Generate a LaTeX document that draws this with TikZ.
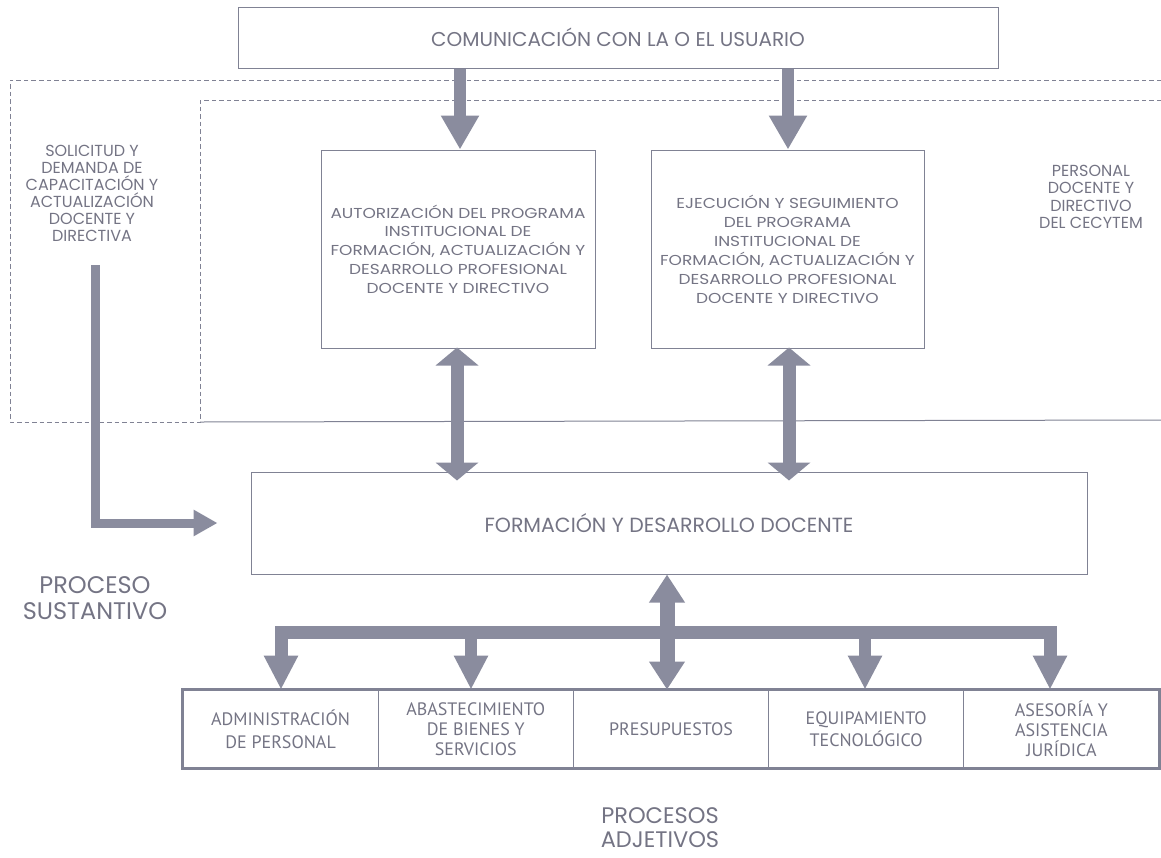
\documentclass[tikz,border=0pt]{standalone}
\usepackage{fontspec}
\setmainfont{Poppins}
\newfontfamily\narrowf{PT Sans}
\newfontfamily\widef[FakeStretch=1.18]{Poppins}
\usetikzlibrary{arrows.meta,calc}
\definecolor{arrowc}{RGB}{138,140,158}
\definecolor{linec}{RGB}{128,130,148}
\definecolor{textc}{RGB}{116,116,132}
\tikzset{
  fat/.style={draw=arrowc, line width=12pt, line join=miter, -{Triangle[width=36pt,length=34pt]}},
  flatboth/.style={draw=arrowc, line width=13pt, line join=miter, {Triangle[width=42pt,length=18pt]}-{Triangle[width=42pt,length=18pt]}},
  slim/.style={draw=arrowc, line width=9pt, line join=miter, -{Triangle[width=25pt,length=24pt]}},
  branch/.style={draw=arrowc, line width=12pt, line join=miter, -{Triangle[width=32pt,length=34pt]}},
  branchboth/.style={draw=arrowc, line width=13pt, line join=miter, {Triangle[width=32pt,length=34pt]}-{Triangle[width=32pt,length=34pt]}},
  midboth/.style={draw=arrowc, line width=15pt, line join=miter, {Triangle[width=34pt,length=28pt]}-{Triangle[width=34pt,length=28pt]}},
  box/.style={draw=linec, line width=1pt, text=textc, align=center, inner sep=0pt},
  dashline/.style={draw=linec, line width=0.9pt, dash pattern=on 4.5pt off 3pt},
  lbl/.style={text=textc, align=center, inner sep=0pt},
  cell/.style={draw=linec, line width=0.8pt, text=textc, align=center, minimum width=195.2pt, minimum height=78pt, inner sep=0pt}
}
\begin{document}
\begin{tikzpicture}[x=1pt,y=-1pt]
\useasboundingbox (0,0) rectangle (1161,857);
% dashed regions
\draw[dashline] (1161,80) -- (10,80) -- (10,422) -- (200,422);
\draw[dashline] (1161,100) -- (200,100) -- (200,422);
\draw[draw=linec, line width=1pt] (200,422) -- (1161,420);
% top box
\node[box, minimum width=760pt, minimum height=61pt, font={\fontsize{20}{22}\selectfont}] (top) at (618,37.5) {COMUNICACIÓN CON LA O EL USUARIO};
% left / right labels
\node[lbl, font={\fontsize{16}{17}\selectfont}] (sol) at (92,193) {SOLICITUD Y\\DEMANDA DE\\CAPACITACIÓN Y\\ACTUALIZACIÓN\\DOCENTE Y\\DIRECTIVA};
\node[lbl, font={\fontsize{16}{17.5}\selectfont}] (per) at (1091,197) {PERSONAL\\DOCENTE Y\\DIRECTIVO\\DEL CECYTEM};
% boxes A and B
\node[box, minimum width=274pt, minimum height=198pt, font={\widef\fontsize{14.4}{18.8}\selectfont}] (A) at (458,249) {AUTORIZACIÓN DEL PROGRAMA\\INSTITUCIONAL DE\\FORMACIÓN, ACTUALIZACIÓN Y\\DESARROLLO PROFESIONAL\\DOCENTE Y DIRECTIVO};
\node[box, minimum width=273pt, minimum height=198pt, font={\widef\fontsize{14.4}{19}\selectfont}] (B) at (787.5,249) {EJECUCIÓN Y SEGUIMIENTO\\DEL PROGRAMA\\INSTITUCIONAL DE\\FORMACIÓN, ACTUALIZACIÓN Y\\DESARROLLO PROFESIONAL\\DOCENTE Y DIRECTIVO};
% formacion box
\node[box, minimum width=836pt, minimum height=102pt, font={\fontsize{20.5}{24}\selectfont}] (F) at (669,523) {FORMACIÓN Y DESARROLLO DOCENTE};
% labels
\node[lbl, font={\fontsize{24}{26}\selectfont}] (ps) at (95,598) {PROCESO\\SUSTANTIVO};
\node[lbl, font={\fontsize{22.5}{24}\selectfont}] (pa) at (660,828) {PROCESOS\\ADJETIVOS};
% bottom cells
\node[cell, font={\narrowf\fontsize{18}{23}\selectfont}] (c1) at (280.6,729) {ADMINISTRACIÓN\\DE PERSONAL};
\node[cell, font={\narrowf\fontsize{18}{20}\selectfont}] (c2) at (475.8,729) {ABASTECIMIENTO\\DE BIENES Y\\SERVICIOS};
\node[cell, font={\narrowf\fontsize{18}{20}\selectfont}] (c3) at (671,729) {PRESUPUESTOS};
\node[cell, font={\narrowf\fontsize{18}{22}\selectfont}] (c4) at (866.2,729) {EQUIPAMIENTO\\TECNOLÓGICO};
\node[cell, font={\narrowf\fontsize{18}{20}\selectfont}] (c5) at (1061.4,729) {ASESORÍA Y\\ASISTENCIA\\JURÍDICA};
\draw[draw=linec, line width=3.5pt] (c1.north west) rectangle (c5.south east);
% arrows top -> A, B
\draw[fat] (460,0 |- top.south) -- (460,0 |- A.north);
\draw[fat] (788,0 |- top.south) -- (788,0 |- B.north);
% double arrows A,B <-> F
\draw[flatboth] ([yshift=1pt]457,0 |- A.south) -- ([yshift=-9pt]457,0 |- F.north);
\draw[flatboth] ([yshift=1pt]789,0 |- B.south) -- ([yshift=-9pt]789,0 |- F.north);
% L arrow
\coordinate (ls) at (95,265);
\draw[slim] (ls) |- ([xshift=-33pt]F.west);
% bottom distribution
\coordinate (h1) at (281,632);
\coordinate (h5) at (1050,632);
\draw[branchboth] (281,0 |- c1.north) -- (h1) -- (h5) -- (1050,0 |- c5.north);
\draw[branch] (471,632) -- (471,0 |- c2.north);
\draw[branch] (865,632) -- (865,0 |- c4.north);
\draw[midboth] (667,0 |- F.south) -- (667,0 |- c3.north);
\end{tikzpicture}
\end{document}
